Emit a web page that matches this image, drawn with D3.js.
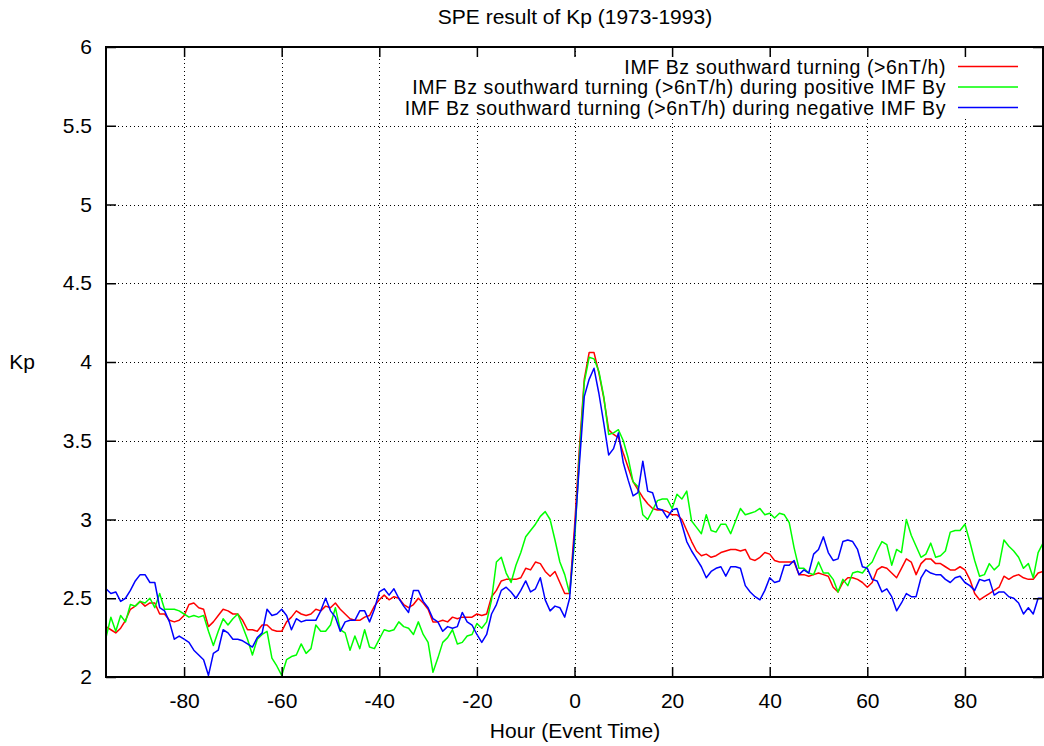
<!DOCTYPE html>
<html>
<head>
<meta charset="utf-8">
<script src="https://cdn.jsdelivr.net/npm/d3@7"></script>
<style>
  html, body { margin: 0; padding: 0; background: #fff; }
  svg { display: block; }
  text { font-family: "Liberation Sans", Arial, Helvetica, sans-serif; fill: #000; }
</style>
</head>
<body>
<svg id="chart" width="1044" height="746"></svg>
<script>
// Superposed epoch analysis of Kp around IMF Bz southward turnings, hourly from -96 h to +96 h
const hours = d3.range(-96, 97);

const kpAll = [
  2.32, 2.30, 2.28, 2.31, 2.36, 2.43, 2.45, 2.48, 2.45, 2.47,
  2.47, 2.40, 2.40, 2.36, 2.35, 2.36, 2.39, 2.46, 2.47, 2.44,
  2.43, 2.32, 2.35, 2.39, 2.43, 2.42, 2.40, 2.40, 2.36, 2.30,
  2.30, 2.29, 2.33, 2.33, 2.30, 2.29, 2.29, 2.35, 2.38, 2.42,
  2.40, 2.39, 2.40, 2.43, 2.42, 2.45, 2.44, 2.47, 2.43, 2.40,
  2.37, 2.36, 2.36, 2.38, 2.39, 2.45, 2.49, 2.52, 2.49, 2.51,
  2.50, 2.46, 2.44, 2.46, 2.50, 2.47, 2.43, 2.35, 2.35, 2.36,
  2.35, 2.38, 2.37, 2.38, 2.38, 2.38, 2.40, 2.39, 2.40, 2.51,
  2.55, 2.61, 2.62, 2.62, 2.62, 2.63, 2.69, 2.68, 2.73, 2.72,
  2.67, 2.64, 2.67, 2.60, 2.53, 2.53, 2.95, 3.45, 3.89, 4.06,
  4.06, 3.93, 3.77, 3.57, 3.54, 3.52, 3.42, 3.33, 3.24, 3.19,
  3.14, 3.10, 3.07, 3.06, 3.06, 3.05, 3.03, 3.03, 3.00, 2.93,
  2.86, 2.80, 2.77, 2.78, 2.76, 2.77, 2.79, 2.80, 2.81, 2.81,
  2.80, 2.81, 2.75, 2.74, 2.76, 2.79, 2.78, 2.74, 2.73, 2.73,
  2.73, 2.73, 2.65, 2.65, 2.64, 2.65, 2.66, 2.65, 2.64, 2.57,
  2.54, 2.60, 2.63, 2.63, 2.62, 2.60, 2.57, 2.60, 2.68, 2.70,
  2.69, 2.66, 2.63, 2.69, 2.75, 2.73, 2.65, 2.72, 2.75, 2.75,
  2.72, 2.72, 2.70, 2.68, 2.68, 2.70, 2.68, 2.62, 2.53, 2.49,
  2.51, 2.53, 2.55, 2.57, 2.64, 2.62, 2.64, 2.65, 2.63, 2.62,
  2.62, 2.66, 2.67
];

const kpPositiveBy = [
  2.25, 2.38, 2.29, 2.39, 2.35, 2.46, 2.45, 2.48, 2.47, 2.50,
  2.44, 2.53, 2.43, 2.43, 2.43, 2.42, 2.40, 2.38, 2.39, 2.38,
  2.39, 2.29, 2.20, 2.29, 2.37, 2.33, 2.37, 2.40, 2.32, 2.24,
  2.14, 2.24, 2.27, 2.29, 2.12, 2.07, 2.01, 2.11, 2.13, 2.14,
  2.21, 2.15, 2.18, 2.33, 2.29, 2.29, 2.33, 2.44, 2.30, 2.28,
  2.17, 2.26, 2.18, 2.30, 2.19, 2.18, 2.24, 2.30, 2.29, 2.30,
  2.35, 2.32, 2.31, 2.27, 2.35, 2.27, 2.22, 2.03, 2.12, 2.22,
  2.25, 2.30, 2.21, 2.22, 2.26, 2.27, 2.34, 2.31, 2.35, 2.49,
  2.73, 2.76, 2.66, 2.60, 2.71, 2.79, 2.89, 2.93, 2.97, 3.02,
  3.05, 3.00, 2.87, 2.73, 2.65, 2.53, 2.85, 3.40, 3.87, 4.03,
  4.02, 3.94, 3.78, 3.54, 3.55, 3.57, 3.50, 3.39, 3.24, 3.21,
  3.03, 3.00, 3.06, 3.12, 3.13, 3.13, 3.07, 3.16, 3.13, 3.18,
  2.99, 2.95, 2.91, 3.03, 2.93, 2.92, 2.97, 2.97, 2.91, 2.99,
  3.07, 3.03, 3.04, 3.05, 3.07, 3.03, 3.04, 3.01, 3.04, 3.03,
  2.98, 2.82, 2.69, 2.69, 2.66, 2.65, 2.73, 2.66, 2.66, 2.62,
  2.54, 2.62, 2.58, 2.66, 2.67, 2.66, 2.70, 2.73, 2.80, 2.86,
  2.84, 2.71, 2.81, 2.79, 3.00, 2.90, 2.83, 2.76, 2.78, 2.85,
  2.76, 2.77, 2.80, 2.92, 2.93, 2.93, 2.97, 2.86, 2.74, 2.64,
  2.65, 2.72, 2.68, 2.71, 2.87, 2.83, 2.80, 2.76, 2.69, 2.72,
  2.63, 2.79, 2.85
];

const kpNegativeBy = [
  2.56, 2.53, 2.54, 2.48, 2.50, 2.55, 2.61, 2.65, 2.65, 2.60,
  2.60, 2.44, 2.42, 2.35, 2.24, 2.26, 2.24, 2.22, 2.17, 2.14,
  2.11, 2.01, 2.15, 2.17, 2.30, 2.28, 2.24, 2.24, 2.23, 2.21,
  2.19, 2.25, 2.28, 2.43, 2.39, 2.40, 2.43, 2.39, 2.30, 2.37,
  2.35, 2.36, 2.36, 2.36, 2.42, 2.50, 2.42, 2.38, 2.29, 2.35,
  2.36, 2.36, 2.42, 2.42, 2.35, 2.43, 2.54, 2.56, 2.52, 2.56,
  2.50, 2.45, 2.41, 2.55, 2.55, 2.48, 2.44, 2.37, 2.35, 2.29,
  2.32, 2.31, 2.32, 2.41, 2.35, 2.33, 2.27, 2.22, 2.27, 2.40,
  2.46, 2.55, 2.57, 2.54, 2.50, 2.55, 2.61, 2.54, 2.56, 2.63,
  2.49, 2.42, 2.45, 2.44, 2.38, 2.50, 2.90, 3.35, 3.78, 3.89,
  3.96, 3.80, 3.61, 3.41, 3.45, 3.55, 3.36, 3.25, 3.15, 3.17,
  3.37, 3.18, 3.17, 3.07, 3.06, 3.01, 3.06, 3.07, 2.97, 2.86,
  2.80, 2.75, 2.70, 2.63, 2.67, 2.69, 2.70, 2.64, 2.70, 2.70,
  2.69, 2.58, 2.54, 2.51, 2.49, 2.55, 2.63, 2.60, 2.61, 2.71,
  2.71, 2.74, 2.65, 2.68, 2.66, 2.78, 2.81, 2.89, 2.79, 2.74,
  2.75, 2.86, 2.87, 2.86, 2.81, 2.70, 2.69, 2.62, 2.61, 2.54,
  2.56, 2.51, 2.42, 2.47, 2.53, 2.51, 2.51, 2.63, 2.68, 2.66,
  2.65, 2.65, 2.62, 2.60, 2.63, 2.64, 2.60, 2.58, 2.55, 2.62,
  2.61, 2.62, 2.52, 2.54, 2.54, 2.51, 2.50, 2.47, 2.40, 2.44,
  2.40, 2.50, 2.50
];

const seriesNames = [
  "IMF Bz southward turning (>6nT/h)",
  "IMF Bz southward turning (>6nT/h) during positive IMF By",
  "IMF Bz southward turning (>6nT/h) during negative IMF By"
];
const seriesColors = ["#ff0000", "#00ff00", "#0000ff"];
const xTicks = [-80, -60, -40, -20, 0, 20, 40, 60, 80];
const yTicks = [2, 2.5, 3, 3.5, 4, 4.5, 5, 5.5, 6];

const titleText = "SPE result of Kp (1973-1993)";
const xLabel = "Hour (Event Time)";
const yLabel = "Kp";

const svg = d3.select("#chart");
const m = { left: 106, right: 1043, top: 47, bottom: 677 };
const FONT = 21;

const x = d3.scaleLinear().domain([-96, 96]).range([m.left, m.right]);
const y = d3.scaleLinear().domain([2, 6]).range([m.bottom, m.top]);

// plain ASCII hyphen for negative tick labels
const fmt = d => String(d);

// Grid
const grid = svg.append("g").attr("class", "grid")
  .attr("stroke", "#000").attr("stroke-width", 1).attr("stroke-dasharray", "1,3");
grid.selectAll("line.v").data(xTicks).join("line")
  .attr("class", "v")
  .attr("x1", d => Math.round(x(d)) + 0.5).attr("x2", d => Math.round(x(d)) + 0.5)
  .attr("y1", m.top).attr("y2", m.bottom);
grid.selectAll("line.h").data(yTicks.slice(1, -1)).join("line")
  .attr("class", "h")
  .attr("x1", m.left).attr("x2", m.right)
  .attr("y1", d => Math.round(y(d)) + 0.5).attr("y2", d => Math.round(y(d)) + 0.5);

// Data lines
const allSeries = [kpAll, kpPositiveBy, kpNegativeBy];
const line = d3.line().x((d, i) => x(hours[i])).y(d => y(d));
svg.append("clipPath").attr("id", "plotclip").append("rect")
  .attr("x", m.left).attr("y", m.top).attr("width", m.right - m.left).attr("height", m.bottom - m.top);
svg.append("g").attr("clip-path", "url(#plotclip)")
  .selectAll("path").data(allSeries).join("path")
  .attr("d", line)
  .attr("fill", "none")
  .attr("stroke", (d, i) => seriesColors[i])
  .attr("stroke-width", 1.5)
  .attr("stroke-linejoin", "round");

// Axes (inward ticks, mirrored on top and right)
const tickLen = 10;
const axisBottom = d3.axisBottom(x).tickValues(xTicks).tickSizeInner(-tickLen).tickSizeOuter(0).tickPadding(16).tickFormat(fmt);
const axisTop = d3.axisTop(x).tickValues(xTicks).tickSizeInner(-tickLen).tickSizeOuter(0).tickFormat("");
const axisLeft = d3.axisLeft(y).tickValues(yTicks).tickSizeInner(-tickLen).tickSizeOuter(0).tickPadding(14).tickFormat(fmt);
const axisRight = d3.axisRight(y).tickValues(yTicks).tickSizeInner(-tickLen).tickSizeOuter(0).tickFormat("");

function styleAxis(g) {
  g.select(".domain").remove();
  g.selectAll(".tick line").attr("stroke", "#000").attr("stroke-width", 1.5);
  g.selectAll(".tick text").attr("font-size", FONT).attr("font-family", "Liberation Sans, Arial, sans-serif").attr("fill", "#000");
}
svg.append("g").attr("transform", `translate(0,${m.bottom})`).call(axisBottom).call(styleAxis);
svg.append("g").attr("transform", `translate(0,${m.top})`).call(axisTop).call(styleAxis);
svg.append("g").attr("transform", `translate(${m.left},0)`).call(axisLeft).call(styleAxis);
svg.append("g").attr("transform", `translate(${m.right},0)`).call(axisRight).call(styleAxis);

// Border
svg.append("rect")
  .attr("x", m.left).attr("y", m.top)
  .attr("width", m.right - m.left).attr("height", m.bottom - m.top)
  .attr("fill", "none").attr("stroke", "#000").attr("stroke-width", 2);

// Legend (opaque key box); rows are packed tightly, so the text is set a little smaller and tracked out
const keyRight = 946, sampleX1 = 958, sampleX2 = 1018, rowY0 = 66.5, rowStep = 20.5;
const KEY_FONT = 19.5;
svg.append("rect").attr("x", 392).attr("y", 57).attr("width", 636).attr("height", 61).attr("fill", "#fff");
const key = svg.append("g").attr("class", "legend");
seriesNames.forEach((name, i) => {
  const cy = rowY0 + i * rowStep;
  key.append("text").attr("x", keyRight).attr("y", cy + 7)
    .attr("text-anchor", "end").attr("font-size", KEY_FONT)
    .attr("letter-spacing", "0.6px").text(name);
  key.append("line").attr("x1", sampleX1).attr("x2", sampleX2).attr("y1", cy).attr("y2", cy)
    .attr("stroke", seriesColors[i]).attr("stroke-width", 1.5);
});

// Titles
svg.append("text").attr("x", 575).attr("y", 24).attr("text-anchor", "middle").attr("font-size", FONT).text(titleText);
svg.append("text").attr("x", 575).attr("y", 738).attr("text-anchor", "middle").attr("font-size", FONT).text(xLabel);
svg.append("text").attr("x", 22).attr("y", 369).attr("text-anchor", "middle").attr("font-size", FONT).text(yLabel);
</script>
</body>
</html>
